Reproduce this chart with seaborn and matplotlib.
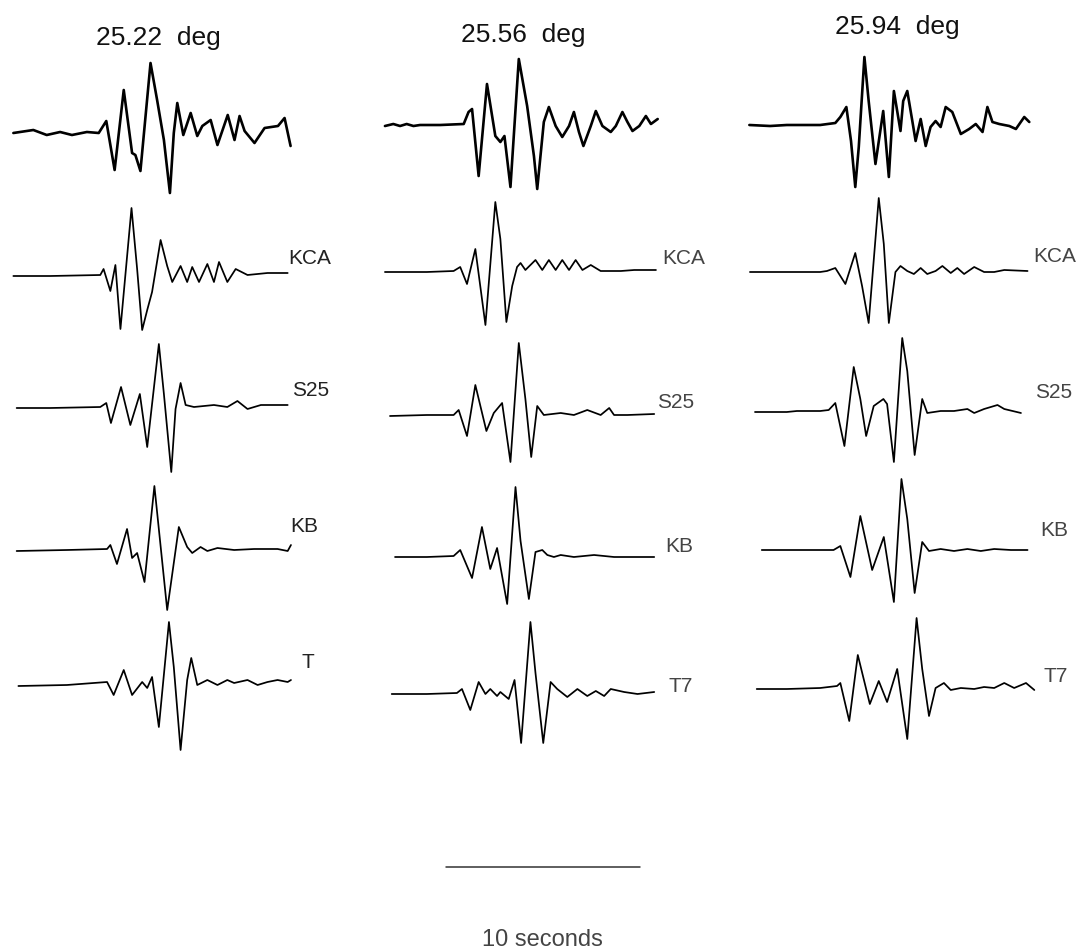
import numpy as np
import pandas as pd
import matplotlib
matplotlib.use("Agg")
import matplotlib.pyplot as plt
import seaborn as sns

# ---------------- data ----------------
DISTANCES = ["25.22", "25.56", "25.94"]
STATION_LABELS_1 = ["KCA", "S25", "KB", "T"]
STATION_LABELS_2 = ["KCA", "S25", "KB", "T7"]
STATION_LABELS_3 = ["KCA", "S25", "KB", "T7"]
SCALE_BAR_SECONDS = 10
SCALE_LABEL = "10 seconds"

# column 1 (25.22 deg): time (s) and amplitude
T_2522_OBS = [0.07, 1.10, 1.79, 2.48, 3.09, 3.86, 4.47, 4.86, 5.29, 5.76, 6.19, 6.36, 6.62, 7.14, 7.48, 7.83, 8.14,
              8.34, 8.52, 8.83, 9.21, 9.55, 9.81, 10.24, 10.59, 11.12, 11.47, 11.73, 11.99, 12.50, 13.02, 13.71, 14.05, 14.36]
A_2522_OBS = [0, 3, -2, 1, -2, 1, 0, 12, -37, 43, -20, -22, -38, 70, 33, -7, -60,
              0, 30, -2, 20, -3, 7, 13, -12, 18, -7, 17, 2, -10, 5, 7, 15, -13]
T_2522_KCA = [0.07, 1.97, 4.55, 4.72, 5.07, 5.33, 5.59, 6.16, 6.45, 6.71, 6.97, 7.22, 7.66, 8.00, 8.26, 8.69, 9.03,
              9.29, 9.64, 10.07, 10.41, 10.67, 11.10, 11.53, 12.14, 13.17, 14.21]
A_2522_KCA = [0, 0, 1, 7, -15, 11, -53, 68, 7, -54, -34, -16, 36, 10, -6, 10, -6,
              9, -6, 12, -6, 14, -6, 7, 1, 3, 3]
T_2522_S25 = [0.24, 1.97, 4.55, 4.86, 5.10, 5.62, 6.10, 6.59, 6.97, 7.57, 7.83, 8.21, 8.43, 8.69, 8.95, 9.38, 10.41,
              11.10, 11.62, 12.14, 12.83, 14.21]
A_2522_S25 = [0, 0, 1, 5, -15, 21, -17, 14, -39, 64, 14, -64, -1, 25, 3, 1, 3,
              1, 7, -1, 3, 3]
T_2522_KB = [0.24, 2.83, 4.90, 5.07, 5.41, 5.93, 6.19, 6.45, 6.83, 7.34, 8.00, 8.60, 9.03, 9.29, 9.72, 10.07, 10.59,
             11.45, 12.48, 13.69, 14.21, 14.38]
A_2522_KB = [-1, 0, 1, 5, -14, 21, -8, -3, -32, 64, -60, 23, 3, -3, 3, -1, 2,
             0, 1, 1, -1, 5]
T_2522_T7 = [0.33, 2.83, 4.90, 5.24, 5.76, 6.19, 6.71, 6.97, 7.22, 7.57, 8.09, 8.34, 8.69, 9.03, 9.24, 9.55, 10.07,
             10.59, 11.10, 11.45, 12.14, 12.66, 13.17, 13.69, 14.21, 14.38]
A_2522_T7 = [-1, 0, 3, -10, 15, -10, 3, -3, 8, -42, 63, 18, -65, 5, 27, 0, 5,
             0, 5, 2, 5, 0, 3, 5, 3, 5]

# column 2 (25.56 deg)
T_2556_OBS = [0.10, 0.53, 0.88, 1.22, 1.57, 1.91, 2.95, 4.16, 4.41, 4.59, 4.93, 5.36, 5.79, 6.05, 6.26, 6.57, 7.00,
              7.43, 7.78, 7.95, 8.29, 8.55, 8.90, 9.24, 9.59, 9.84, 10.10, 10.33, 10.71, 10.97, 11.31, 11.74, 12.00,
              12.34, 12.60, 12.86, 13.21, 13.55, 13.81, 14.16]
A_2556_OBS = [-1, 1, -1, 1, -1, 0, 0, 1, 13, 16, -51, 41, -11, -17, -11, -62, 66,
              19, -31, -64, 3, 18, -1, -12, -1, 13, -7, -21, -1, 14, -1, -7, -1,
              13, 3, -6, -1, 9, 1, 6]
T_2556_KCA = [0.10, 2.26, 3.64, 3.98, 4.33, 4.76, 5.28, 5.79, 6.05, 6.36, 6.66, 6.91, 7.09, 7.34, 7.60, 7.86, 8.21,
              8.55, 8.90, 9.24, 9.59, 9.93, 10.28, 10.71, 11.22, 12.26, 12.95, 14.07]
A_2556_KCA = [0, 0, 1, 5, -12, 23, -53, 70, 33, -50, -14, 5, 9, 2, 7, 12, 2,
              12, 2, 12, 2, 12, 2, 7, 1, 1, 2, 2]
T_2556_S25 = [0.36, 2.26, 3.64, 3.90, 4.33, 4.76, 5.33, 5.71, 6.14, 6.57, 7.00, 7.34, 7.64, 7.95, 8.29, 9.16, 9.84,
              10.53, 11.22, 11.66, 11.91, 12.60, 13.98]
A_2556_S25 = [-1, 0, 0, 5, -21, 30, -16, 2, 12, -47, 72, 16, -42, 9, 0, 2, 0,
              5, 0, 7, 0, 0, 1]
T_2556_KB = [0.62, 2.26, 3.64, 3.98, 4.59, 5.10, 5.53, 5.88, 6.40, 6.83, 7.09, 7.52, 7.86, 8.21, 8.47, 8.81, 9.16,
             9.84, 10.88, 11.91, 13.98]
A_2556_KB = [0, 0, 1, 7, -21, 30, -12, 9, -47, 70, 16, -42, 5, 7, 2, 0, 2,
             0, 2, 0, 0]
T_2556_T7 = [0.45, 2.26, 3.81, 4.07, 4.50, 4.93, 5.28, 5.53, 5.88, 6.05, 6.48, 6.78, 7.12, 7.60, 7.86, 8.26, 8.64,
             8.98, 9.50, 10.02, 10.53, 10.97, 11.40, 11.74, 12.43, 13.12, 13.98]
A_2556_T7 = [0, 0, 1, 5, -16, 12, 0, 5, -2, 2, -5, 14, -49, 72, 21, -49, 12,
             5, -3, 5, -2, 3, -2, 5, 2, 0, 2]

# column 3 (25.94 deg)
T_2594_OBS = [0.07, 1.14, 2.00, 3.03, 3.72, 4.50, 4.76, 5.07, 5.31, 5.53, 5.71, 6.00, 6.22, 6.57, 6.97, 7.26, 7.52,
              7.69, 7.86, 8.00, 8.21, 8.47, 8.64, 8.90, 9.16, 9.41, 9.67, 9.93, 10.19, 10.53, 10.97, 11.40, 11.74,
              12.09, 12.34, 12.60, 12.95, 13.47, 13.81, 14.24, 14.50]
A_2594_OBS = [0, -1, 0, 0, 0, 2, 8, 18, -16, -62, -22, 68, 24, -39, 14, -52, 34,
              14, -6, 24, 34, 4, -16, 6, -21, -2, 4, -2, 18, 13, -9, -4, 1,
              -7, 18, 3, 1, -1, -4, 8, 3]
T_2594_KCA = [0.10, 2.00, 3.72, 4.07, 4.50, 5.02, 5.53, 5.88, 6.22, 6.74, 7.00, 7.26, 7.60, 7.86, 8.21, 8.55, 8.90,
              9.24, 9.67, 10.02, 10.45, 10.79, 11.14, 11.66, 12.17, 12.69, 13.21, 14.41]
A_2594_KCA = [0, 0, 0, 1, 4, -12, 19, -14, -51, 74, 28, -51, 0, 6, 1, -2, 4,
              -2, 1, 6, -1, 4, -2, 5, 0, 0, 2, 1]
T_2594_S25 = [0.36, 2.00, 2.52, 3.72, 4.16, 4.50, 4.97, 5.45, 5.79, 6.09, 6.48, 6.98, 7.17, 7.52, 7.95, 8.21, 8.59,
              8.98, 9.24, 9.93, 10.62, 11.31, 11.66, 12.17, 12.86, 13.21, 14.07]
A_2594_S25 = [-1, -1, 0, 0, 1, 8, -35, 44, 12, -25, 5, 12, 7, -51, 73, 40, -44,
              12, -2, 0, 0, 2, -2, 2, 6, 2, -2]
T_2594_KB = [0.71, 2.00, 3.38, 4.41, 4.76, 5.28, 5.79, 6.40, 7.00, 7.52, 7.91, 8.21, 8.59, 8.98, 9.33, 9.93, 10.62,
             11.31, 12.00, 12.69, 13.55, 14.41]
A_2594_KB = [0, 0, 0, 0, 4, -27, 34, -20, 13, -52, 71, 31, -43, 8, -1, 1, -1,
             1, -1, 1, 0, 0]
T_2594_T7 = [0.45, 2.00, 3.72, 4.59, 4.76, 5.22, 5.66, 6.28, 6.74, 7.17, 7.69, 8.21, 8.69, 8.98, 9.33, 9.67, 10.10,
             10.45, 10.97, 11.66, 12.17, 12.69, 13.21, 13.72, 14.33, 14.76]
A_2594_T7 = [-1, -1, 0, 2, 5, -33, 33, -16, 7, -14, 19, -51, 70, 19, -28, 0, 5,
             -2, 0, -1, 1, 0, 5, 0, 5, -2]

TRACES = [
    [(T_2522_OBS, A_2522_OBS), (T_2522_KCA, A_2522_KCA), (T_2522_S25, A_2522_S25),
     (T_2522_KB, A_2522_KB), (T_2522_T7, A_2522_T7)],
    [(T_2556_OBS, A_2556_OBS), (T_2556_KCA, A_2556_KCA), (T_2556_S25, A_2556_S25),
     (T_2556_KB, A_2556_KB), (T_2556_T7, A_2556_T7)],
    [(T_2594_OBS, A_2594_OBS), (T_2594_KCA, A_2594_KCA), (T_2594_S25, A_2594_S25),
     (T_2594_KB, A_2594_KB), (T_2594_T7, A_2594_T7)],
]
LABELS = [STATION_LABELS_1, STATION_LABELS_2, STATION_LABELS_3]

# ---------------- layout (pixels of the 1080x950 canvas) ----------------
W, H = 1080, 950
PX_PER_S = 19.4
COL_X0 = [12, 383, 748]
ROW_Y = [[133, 276, 408, 550, 685],
         [125, 272, 415, 557, 694],
         [125, 272, 411, 550, 688]]
TITLE_POS = [(158, 45), (523, 42), (897, 34)]
LABEL_POS = [[(288, 258), (292, 390), (290, 527), (302, 663)],
             [(662, 259), (657, 403), (665, 546), (668, 686)],
             [(1033, 256), (1035, 393), (1040, 531), (1043, 677)]]
BAR_X0, BAR_Y = 446, 867
BAR_TEXT = (542, 946)

sns.set_theme(style="white")
plt.rcParams["font.family"] = ["Liberation Sans", "DejaVu Sans"]

fig = plt.figure(figsize=(W / 100, H / 100), dpi=100)
ax = fig.add_axes([0, 0, 1, 1])


def px(x):
    return x / PX_PER_S


for c in range(3):
    for r in range(5):
        t, a = TRACES[c][r]
        df = pd.DataFrame({
            "time": np.asarray(t, dtype=float) + px(COL_X0[c]),
            "amp": ROW_Y[c][r] - np.asarray(a, dtype=float),
        })
        sns.lineplot(data=df, x="time", y="amp", ax=ax, color="black",
                     linewidth=1.9 if r == 0 else 1.25, sort=False,
                     estimator=None, legend=False)

    tx, ty = TITLE_POS[c]
    ax.text(px(tx), ty, f"{DISTANCES[c]}  deg", ha="center", va="baseline",
            fontsize=19, color="#111111")
    for r, lab in enumerate(LABELS[c]):
        lx, ly = LABEL_POS[c][r]
        ax.text(px(lx), ly, lab, ha="left", va="center", fontsize=15,
                color="#222222" if c == 0 else "#444444")

# scale bar
bar = pd.DataFrame({"time": [px(BAR_X0), px(BAR_X0) + SCALE_BAR_SECONDS],
                    "amp": [BAR_Y, BAR_Y]})
sns.lineplot(data=bar, x="time", y="amp", ax=ax, color="#333333",
             linewidth=1.1, sort=False, estimator=None, legend=False)
ax.text(px(BAR_TEXT[0]), BAR_TEXT[1], SCALE_LABEL, ha="center", va="baseline",
        fontsize=17, color="#444444")

ax.set_xlim(0, px(W))
ax.set_ylim(H, 0)
ax.axis("off")

fig.savefig("out.png", dpi=100, facecolor="white")
